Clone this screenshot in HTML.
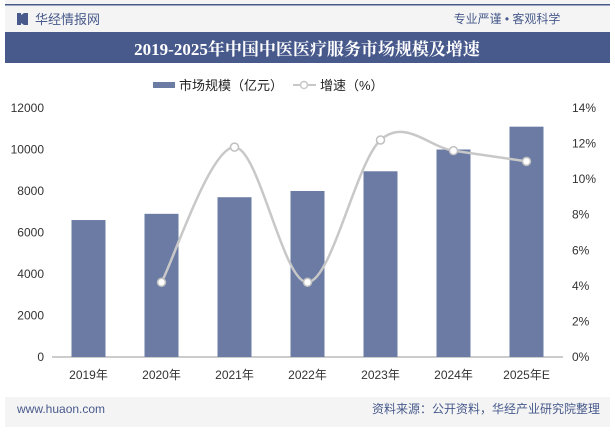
<!DOCTYPE html>
<html><head><meta charset="utf-8"><style>
body{margin:0;width:615px;height:427px;overflow:hidden;background:#fff;font-family:"Liberation Sans","Noto Sans CJK SC",sans-serif;}
</style></head><body>
<svg width="615" height="427" xmlns="http://www.w3.org/2000/svg" font-family="Liberation Sans, Noto Sans CJK SC, sans-serif">
<rect x="0" y="0" width="615" height="427" fill="#fff"/>
<rect x="5" y="0" width="605" height="32" fill="#f4f4f4"/>
<rect x="5" y="4" width="605" height="1.5" fill="#485a8c"/>
<g><rect x="17" y="13" width="4" height="12" fill="#485a8c"/><rect x="24" y="13" width="4" height="12" fill="#485a8c"/><polygon points="21,15 24,13 24,25 21,23" fill="#485a8c"/></g>
<text x="35" y="24" font-size="13" fill="#485a8c">华经情报网</text>
<text x="507" y="23" font-size="12" fill="#485a8c" text-anchor="middle">专业严谨 • 客观科学</text>
<rect x="5" y="32" width="605" height="31" fill="#485a8c"/>
<text x="307" y="55" font-size="17" font-weight="bold" fill="#fff" text-anchor="middle" font-family="Liberation Serif, Noto Serif CJK SC, serif">2019-2025年中国中医医疗服务市场规模及增速</text>
<g>
<rect x="153" y="82" width="22" height="6" fill="#6b7ba3"/>
<text x="179" y="90" font-size="13" fill="#222">市场规模（亿元）</text>
<line x1="293" y1="85" x2="316" y2="85" stroke="#c8c8c8" stroke-width="2"/>
<circle cx="304" cy="85" r="3.5" fill="#fff" stroke="#c8c8c8" stroke-width="1.5"/>
<text x="320" y="90" font-size="13" fill="#222">增速（%）</text>
</g>
<g id="chart"></g>
<rect x="5" y="397" width="605" height="30" fill="#f4f4f4"/>
<text x="17" y="413" font-size="12" fill="#485a8c">www.huaon.com</text>
<text x="600" y="413" font-size="12" fill="#485a8c" text-anchor="end">资料来源：公开资料，华经产业研究院整理</text>
</svg>
<script>
const categories=["2019年","2020年","2021年","2022年","2023年","2024年","2025年E"];
const sizeValues=[6600,6900,7700,8000,8950,10000,11100];
const growthValues=[null,4.2,11.8,4.2,12.2,11.6,11.0];
const leftTicks=[0,2000,4000,6000,8000,10000,12000];
const rightTicks=[0,2,4,6,8,10,12,14];
const NS="http://www.w3.org/2000/svg";
const g=document.getElementById('chart');
const x0=52,x1=563,yTop=108,yBot=357;
const band=(x1-x0)/categories.length;
const xc=i=>x0+band*(i+0.5);
const yL=v=>yBot-(v/12000)*(yBot-yTop);
const yR=v=>yBot-(v/14)*(yBot-yTop);
function mk(t,a){const e=document.createElementNS(NS,t);for(const k in a)e.setAttribute(k,a[k]);g.appendChild(e);return e;}
const ax=mk('line',{x1:x0,y1:yBot,x2:x1,y2:yBot,stroke:'#999','stroke-width':1});


leftTicks.forEach(v=>{const t=mk('text',{x:44,y:yL(v)+4,'font-size':12,fill:'#333','text-anchor':'end'});t.textContent=v;

});
rightTicks.forEach(v=>{const t=mk('text',{x:572,y:yR(v)+4,'font-size':12,fill:'#333'});t.textContent=v+'%';

});
categories.forEach((c,i)=>{
const b=mk('rect',{x:xc(i)-17,y:yL(sizeValues[i]),width:34,height:yBot-yL(sizeValues[i]),fill:'#6b7ba3'});


const t=mk('text',{x:xc(i),y:379,'font-size':12,fill:'#333','text-anchor':'middle'});t.textContent=c;


});
const pts=[];growthValues.forEach((v,i)=>{if(v!=null)pts.push([xc(i),yR(v)]);});
let d='M'+pts[0][0]+','+pts[0][1];
for(let i=0;i<pts.length-1;i++){const p0=pts[Math.max(0,i-1)],p1=pts[i],p2=pts[i+1],p3=pts[Math.min(pts.length-1,i+2)];
const c1=[p1[0]+(p2[0]-p0[0])/6,p1[1]+(p2[1]-p0[1])/6],c2=[p2[0]-(p3[0]-p1[0])/6,p2[1]-(p3[1]-p1[1])/6];
d+=` C${c1[0]},${c1[1]} ${c2[0]},${c2[1]} ${p2[0]},${p2[1]}`;}
const ln=mk('path',{d:d,fill:'none',stroke:'#c8c8c8','stroke-width':2.5});


pts.forEach(p=>{const c=mk('circle',{cx:p[0],cy:p[1],r:4,fill:'#fff',stroke:'#c0c0c0','stroke-width':1.5});

});
</script>
</body></html>
